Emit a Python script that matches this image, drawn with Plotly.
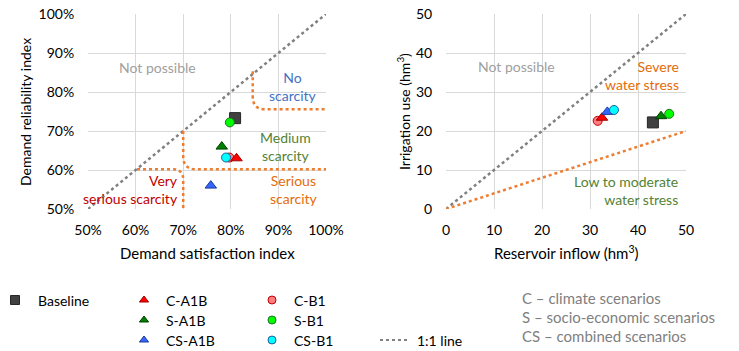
import plotly.graph_objects as go

# ---------------- data ----------------
scenarios = ["Baseline", "C-B1", "C-A1B", "CS-A1B", "CS-B1", "S-A1B", "S-B1"]
symbols = ["square", "circle", "triangle-up", "triangle-up", "circle", "triangle-up", "circle"]
fill_colors = ["#404040", "#FF7C80", "#FF0000", "#3366FF", "#00FFFF", "#008000", "#00FF00"]
edge_colors = ["#262626", "#C00000", "#A00000", "#1F3C99", "#1F5FA0", "#004000", "#1E6E1E"]
marker_sizes = [11, 9, 10, 10, 9, 10, 9]

# left panel: demand satisfaction index (%) vs demand reliability index (%)
dsi = [80.9, 79.7, 81.2, 75.8, 79.0, 78.1, 79.8]
dri = [73.3, 63.2, 63.0, 56.0, 63.2, 66.0, 72.2]
# right panel: reservoir inflow (hm3) vs irrigation use (hm3)
inflow = [43.1, 31.6, 32.5, 33.6, 35.0, 44.8, 46.5]
irrig = [22.2, 22.6, 23.4, 24.9, 25.4, 23.8, 24.4]

left_ticks = [50, 60, 70, 80, 90, 100]
left_ticktext = ["50%", "60%", "70%", "80%", "90%", "100%"]
right_ticks = [0, 10, 20, 30, 40, 50]
stress_slope = 0.4  # orange dotted line: irrigation = 0.4 * inflow

legend_items_col1 = ["Baseline"]
legend_items_col2 = ["C-A1B", "S-A1B", "CS-A1B"]
legend_items_col3 = ["C-B1", "S-B1", "CS-B1"]
scenario_notes = ["C – climate scenarios", "S – socio-economic scenarios", "CS – combined scenarios"]

FONT = "Lato"
W, H = 739, 351
GRID = "#D9D9D9"
ORANGE = "#ED7D31"
GRAY = "#808080"


def px(x):
    return x / W


def py(y):
    return 1 - y / H


fig = go.Figure()

# data markers
for i, name in enumerate(scenarios):
    mk = dict(symbol=symbols[i], size=marker_sizes[i], color=fill_colors[i],
              line=dict(color=edge_colors[i], width=1))
    fig.add_trace(go.Scatter(x=[dsi[i]], y=[dri[i]], mode="markers", marker=mk,
                             name=name, showlegend=False, xaxis="x", yaxis="y"))
    fig.add_trace(go.Scatter(x=[inflow[i]], y=[irrig[i]], mode="markers", marker=mk,
                             name=name, showlegend=False, xaxis="x2", yaxis="y2"))

# ---------------- legend (drawn on a pixel-scaled helper axis) ----------------
rows = [300, 320, 340]
idx = {n: i for i, n in enumerate(scenarios)}


def legend_marker(xpos, ypos, name):
    i = idx[name]
    sz = 8 if symbols[i] != "square" else 9
    fig.add_trace(go.Scatter(
        x=[xpos], y=[ypos], mode="markers", showlegend=False, xaxis="x3", yaxis="y3",
        marker=dict(symbol=symbols[i], size=sz, color=fill_colors[i],
                    line=dict(color=edge_colors[i], width=1)), hoverinfo="skip"))


legend_marker(15, rows[0], "Baseline")
for r, n in zip(rows, legend_items_col2):
    legend_marker(144, r, n)
for r, n in zip(rows, legend_items_col3):
    legend_marker(272, r, n)
fig.add_trace(go.Scatter(x=[380, 410], y=[rows[2], rows[2]], mode="lines", showlegend=False,
                         xaxis="x3", yaxis="y3", line=dict(color=GRAY, width=2, dash="dot"),
                         hoverinfo="skip"))

annotations = []


def txt(x, y, s, size=14, color="#000", xanchor="left", align="left", xref="x3", yref="y3"):
    annotations.append(dict(x=x, y=y, text=s, xref=xref, yref=yref, showarrow=False,
                            xanchor=xanchor, yanchor="middle", align=align,
                            font=dict(family=FONT, size=size, color=color)))


txt(36, rows[0], legend_items_col1[0])
for r, n in zip(rows, legend_items_col2):
    txt(164, r, n)
for r, n in zip(rows, legend_items_col3):
    txt(292, r, n)
txt(415, rows[2], "1:1 line")
for r, n in zip([298, 317, 336], scenario_notes):
    txt(520, r, n, size=15, color="#7F7F7F")

# ---------------- in-plot labels ----------------
txt(64.6, 86.4, "Not possible", size=14, color="#A0A0A0", xanchor="center", xref="x", yref="y")
txt(93.1, 81.3, "No<br>scarcity", size=14, color="#4472C4", xanchor="center", align="center", xref="x", yref="y")
txt(91.4, 65.9, "Medium<br>scarcity", size=14, color="#548235", xanchor="center", align="center", xref="x", yref="y")
txt(93.3, 54.9, "Serious<br>scarcity", size=14, color="#E46C0A", xanchor="center", align="center", xref="x", yref="y")
txt(69.3, 54.9, "Very<br>serious scarcity", size=14, color="#C00000", xanchor="right", align="right", xref="x", yref="y")

txt(14.7, 36.5, "Not possible", size=14, color="#A0A0A0", xanchor="center", xref="x2", yref="y2")
txt(49.0, 34.2, "Severe<br>water stress", size=14, color="#E46C0A", xanchor="right", align="right", xref="x2", yref="y2")
txt(48.7, 4.8, "Low to moderate<br>water stress", size=14, color="#548235", xanchor="right", align="right", xref="x2", yref="y2")

# axis titles
txt(px(207), py(253), "Demand satisfaction index", size=15, xanchor="center", xref="paper", yref="paper")
txt(px(566), py(253), "Reservoir inflow (hm<sup>3</sup>)", size=15, xanchor="center", xref="paper", yref="paper")
annotations.append(dict(x=px(25), y=py(112), xref="paper", yref="paper", text="Demand reliability index",
                        showarrow=False, textangle=-90, xanchor="center", yanchor="middle",
                        font=dict(family=FONT, size=14, color="#000")))
annotations.append(dict(x=px(403), y=py(112), xref="paper", yref="paper", text="Irrigation use (hm<sup>3</sup>)",
                        showarrow=False, textangle=-90, xanchor="center", yanchor="middle",
                        font=dict(family=FONT, size=14, color="#000")))

# ---------------- reference lines ----------------
dot = dict(dash="dot", width=2.5)
shapes = [
    dict(type="line", xref="x", yref="y", x0=50, y0=50, x1=100, y1=100, line=dict(color=GRAY, **dot)),
    dict(type="path", xref="x", yref="y", path="M 84.6,85.3 L 84.6,79 Q 84.6,75.6 87,75.6 L 100,75.6",
         line=dict(color=ORANGE, **dot)),
    dict(type="path", xref="x", yref="y", path="M 70,70 L 70,63.5 Q 70,60.2 72.6,60.2 L 100,60.2",
         line=dict(color=ORANGE, **dot)),
    dict(type="path", xref="x", yref="y", path="M 60.3,60.2 L 67.8,60.2 Q 70,60.2 70,57.5 L 70,50",
         line=dict(color=ORANGE, **dot)),
    dict(type="line", xref="x2", yref="y2", x0=0, y0=0, x1=50, y1=50, line=dict(color=GRAY, **dot)),
    dict(type="line", xref="x2", yref="y2", x0=0, y0=0, x1=50, y1=50 * stress_slope, line=dict(color=ORANGE, **dot)),
]

tickfont = dict(family=FONT, size=14, color="#000")
common = dict(showgrid=True, gridcolor=GRID, gridwidth=1, zeroline=False, showline=False, automargin=False,
              ticks="outside", tickcolor="rgba(0,0,0,0)", tickfont=tickfont, fixedrange=True,
              ticklabeloverflow="allow")

fig.update_layout(
    width=W, height=H, margin=dict(l=0, r=0, t=0, b=0, autoexpand=False),
    paper_bgcolor="white", plot_bgcolor="white", showlegend=False,
    xaxis=dict(domain=[px(88), px(326)], range=[50, 100], tickvals=left_ticks, ticktext=left_ticktext,
               anchor="y", ticklen=8, **common),
    yaxis=dict(domain=[py(209), py(14)], range=[50, 100], tickvals=left_ticks, ticktext=left_ticktext,
               anchor="x", ticklen=10, **common),
    xaxis2=dict(domain=[px(446), px(686)], range=[0, 50], tickvals=right_ticks, anchor="y2", ticklen=8, **common),
    yaxis2=dict(domain=[py(209), py(14)], range=[0, 50], tickvals=right_ticks, anchor="x2", ticklen=10, **common),
    xaxis3=dict(domain=[0, 1], range=[0, W], visible=False, anchor="y3", fixedrange=True, automargin=False),
    yaxis3=dict(domain=[0, py(271)], range=[H, 271], visible=False, anchor="x3", fixedrange=True, automargin=False),
    shapes=shapes, annotations=annotations,
)

fig.write_html("out.html", config={"displayModeBar": False},
               post_script="document.body.style.margin='0px';document.body.style.overflow='hidden';")
